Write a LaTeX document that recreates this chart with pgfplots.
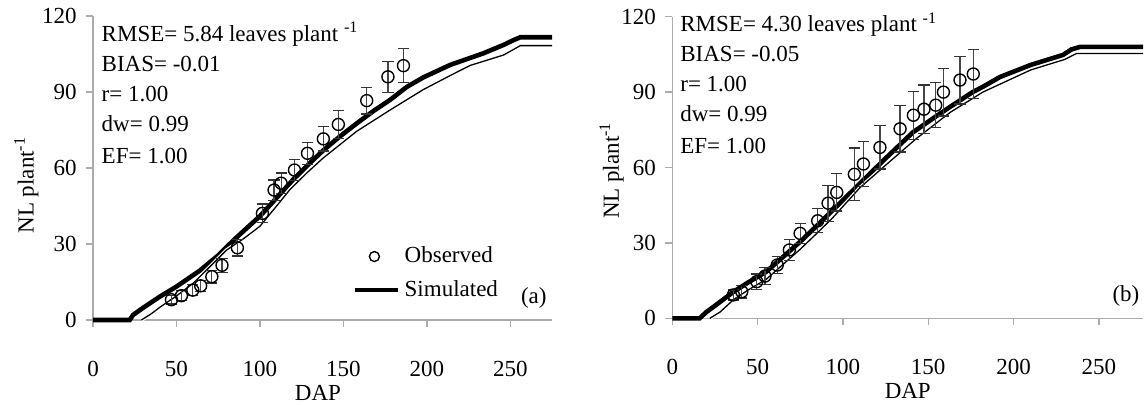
\documentclass[border=0pt]{standalone}
\usepackage{fontspec}
\setmainfont{Liberation Serif}
\usepackage{pgfplots}
\usepackage{pgfplotstable}
\pgfplotsset{compat=1.18}

\pgfplotstableread{
x y e
47 8 1.7
53 9.6 2
59.8 11.8 2.2
64.5 13.5 2.2
71.2 17.1 2.5
77.3 21.6 2.7
86.5 28.5 3.2
101.5 42.1 3.7
108.5 51.3 4
112.7 54 4
120.7 59.2 4.2
128.5 65.8 4.4
138 71.5 4.8
147 77.2 5.5
164 86.6 5.3
176.7 96 6.2
186 100.4 6.8
}\obsA
\pgfplotstableread{
x y
0 0
22 0
24 2
30 4.8
40 9.2
50 13.2
64 19.5
75 25.5
85 32
100 41
110 48.2
120 55.5
130 62
138 67
148 72.5
158 77.6
168 82.5
178 86.9
188 92
198 95.8
214 100.7
234 105.3
246 108.6
252 110.5
256 111.6
275 111.6
}\thickA
\pgfplotstableread{
x y
29 0
35 2.5
40 5
50 9.5
60 14.5
70 21
80 27.6
90 32
100 37
110 45
118 51.5
128 58
138 64
158 74.5
178 82.9
198 91
214 96.5
226 100.5
246 104.6
256 108.3
275 108.3
}\thinA
\pgfplotstableread{
x y e
35.8 9.3 2
40.7 10.6 2.5
49.5 14.6 3
54.3 16.8 3.5
61.5 21.2 3.5
68.6 27.2 4.2
74.9 33.8 4
85.2 38.8 4.8
91.3 45.8 7.2
96.4 50.1 7.4
106.7 57.3 10.5
112 61.4 9
121.7 68 8.6
133.5 75.4 9.2
141.3 80.8 9.5
147.5 83.2 9.6
154.4 84.8 9
158.9 90 9.5
168.6 94.8 9.5
176.4 97.2 9.6
}\obsB
\pgfplotstableread{
x y
0 0
16 0
20 2.5
25 5
36 10.6
45 14.5
55 18.5
65 24.5
75 30.5
85 37
94 43
106 51
115 57
126 64.3
141 74
157 81.5
163 84.2
176 90
182 92.1
192 96
210 100.8
229 104.8
234 107
239 108
276 108
}\thickB
\pgfplotstableread{
x y
22 0
28 2.5
36 7.5
45 11.5
55 15.5
65 21.5
75 27.5
85 34
94 40
110 52
126 61.5
143 71.5
163 82
182 90
210 98.8
230 103
237 105.4
276 105.4
}\thinB

\tikzset{stat/.style={anchor=base west, inner sep=0pt}}
\pgfplotsset{
  myax/.style={
    scale only axis,
    axis x line*=bottom, axis y line*=left,
    axis line style={draw=gray!65, -, line width=0.7pt},
    xmin=0, ymin=0, ymax=120,
    xtick={0,50,...,250}, ytick={0,30,...,120},
    tick align=outside, major tick length=3.5pt,
    tick style={gray!65, line width=0.7pt},
    clip=false,
    xlabel={DAP},
    ylabel={NL plant\textsuperscript{-1}},
    legend image code/.code={\draw[mark repeat=2,mark phase=2,##1] plot coordinates {(0pt,0pt) (9.5pt,0pt) (21.5pt,0pt)};},
    every x tick label/.append style={yshift=-13pt},
    every y tick label/.append style={xshift=-0.7pt},
    /pgf/number format/assume math mode=true,
  },
  obs/.style={only marks, mark=o, mark size=3pt, black, mark options={line width=0.7pt},
    error bars/.cd, y dir=both, y explicit,
    error bar style={gray!55!black, line width=0.6pt},
    error mark options={rotate=90, mark size=2.8pt, black!80, line width=0.6pt},
    /pgfplots/.cd},
  thickline/.style={black, line width=2.3pt},
  halo/.style={white, line width=1.8pt},
  thinline/.style={black, line width=0.65pt},
}

\begin{document}
\fontsize{11.5}{14}\selectfont
\begin{tikzpicture}
% ---------- (a) ----------
\begin{axis}[myax,
  at={(46.5pt,42pt)}, anchor=south west,
  width=229.5pt, height=152pt, xmax=275,
  every axis x label/.style={at={(axis description cs:0.49,0)}, anchor=north, yshift=-28.5pt},
  every axis y label/.style={at={(axis description cs:-0.145,0.444)}, rotate=90, anchor=center},
  legend style={at={(axis cs:152,32.2)}, anchor=north west, draw=none, fill=none,
    row sep=3pt, cells={anchor=west}},
]
\addlegendimage{only marks, mark=o, mark size=2.5pt, black, mark options={line width=0.7pt}}
\addlegendentry{Observed}
\addlegendimage{black, line width=2.3pt}
\addlegendentry{Simulated}
\addplot[forget plot, thickline] table[x=x,y=y] {\thickA};
\addplot[forget plot, halo] table[x=x,y=y] {\thinA};
\addplot[forget plot, thinline] table[x=x,y=y] {\thinA};
\addplot[forget plot, obs] table[x=x,y=y,y error=e] {\obsA};
\node[stat] at (axis cs:5,109.9) {RMSE= 5.84 leaves plant \textsuperscript{-1}};
\node[stat] at (axis cs:5,98) {BIAS= -0.01};
\node[stat] at (axis cs:5,86.2) {r= 1.00};
\node[stat] at (axis cs:5,74.3) {dw= 0.99};
\node[stat] at (axis cs:5,61.9) {EF= 1.00};
\node[anchor=base east, inner sep=0pt] at (axis cs:272,6.5) {(a)};
\end{axis}
% ---------- (b) ----------
\begin{axis}[myax,
  at={(336.15pt,42.85pt)}, anchor=south west,
  width=235.45pt, height=150.8pt, xmax=276,
  every axis x label/.style={at={(axis description cs:0.5,0)}, anchor=north, yshift=-28.5pt},
  every axis y label/.style={at={(axis description cs:-0.129,0.49)}, rotate=90, anchor=center},
]
\addplot[thickline] table[x=x,y=y] {\thickB};
\addplot[halo] table[x=x,y=y] {\thinB};
\addplot[thinline] table[x=x,y=y] {\thinB};
\addplot[obs] table[x=x,y=y,y error=e] {\obsB};
\node[stat] at (axis cs:4.5,114) {RMSE= 4.30 leaves plant \textsuperscript{-1}};
\node[stat] at (axis cs:4.5,102.1) {BIAS= -0.05};
\node[stat] at (axis cs:4.5,90.2) {r= 1.00};
\node[stat] at (axis cs:4.5,78.3) {dw= 0.99};
\node[stat] at (axis cs:4.5,65.7) {EF= 1.00};
\node[anchor=base east, inner sep=0pt] at (axis cs:274,6.6) {(b)};
\end{axis}
\pgfresetboundingbox
\path (0pt,0pt) rectangle (572.5pt,202pt);
\end{tikzpicture}
\end{document}
